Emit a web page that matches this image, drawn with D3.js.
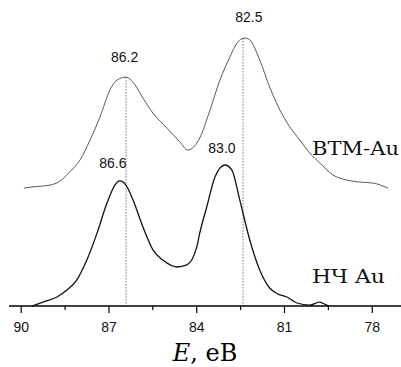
<!DOCTYPE html>
<html><head><meta charset="utf-8">
<script src="https://cdn.jsdelivr.net/npm/d3@7"></script>
<style>body{margin:0;background:#fff}svg{display:block}</style>
</head><body>
<svg id="c" width="401" height="367"></svg>
<script>
const energyBTM = [89.89,89.58,89.00,88.66,88.32,87.97,87.63,87.29,86.95,86.71,86.40,86.16,85.82,85.48,85.00,84.56,84.29,83.98,83.88,83.53,83.19,82.85,82.58,82.34,82.17,81.83,81.49,81.14,80.80,80.46,80.12,79.78,79.33,78.86,78.41,77.97,77.45];
const intensityBTM = [39.3,39.7,40.3,41.6,44.7,48.7,55.3,63.0,72.0,75.3,76.3,74.6,69.3,64.3,59.3,54.7,52.0,54.3,56.0,65.3,75.3,83.0,88.0,89.3,88.7,82.0,73.0,65.3,59.7,55.3,51.0,47.7,43.7,42.0,41.3,41.0,39.3];
const energyNP = [89.61,89.24,88.76,88.42,88.08,87.74,87.39,87.05,86.78,86.61,86.40,86.16,85.82,85.48,85.14,84.66,84.32,83.98,83.88,83.64,83.36,83.02,82.78,82.51,82.17,81.83,81.49,81.21,80.90,80.56,80.12,79.78,79.54,79.44];
const intensityNP = [0,1.3,3.0,5.3,8.7,15.3,24.3,34.3,40.3,41.7,40.3,35.3,26.3,18.7,15.3,13.0,13.7,19.7,24.3,33.0,43.0,47.0,45.3,35.3,22.0,12.0,6.0,4.0,3.0,1.0,0.3,1.3,0.3,0];
const majorTicks = [90,87,84,81,78];
const minorTicks = [88.5,85.5,82.5,79.5];
const peakLines = [86.4, 82.4];
const peakLabels = [
  {text:"86.2", e:86.45, i:81.3},
  {text:"82.5", e:82.2, i:94.7},
  {text:"86.6", e:86.85, i:46.0},
  {text:"83.0", e:83.12, i:51.0}
];
const seriesLabels = ["BTM-Au","НЧ Au"];

const svg = d3.select("#c");
const x = d3.scaleLinear().domain([90.4, 77.0]).range([9, 401]);
const y = d3.scaleLinear().domain([0, 100]).range([306, 6]);

// dotted peak lines
const tops = [76.3, 89.3];
peakLines.forEach((e,k)=>{
  svg.append("line").attr("x1",x(e)).attr("x2",x(e))
    .attr("y1",y(tops[k])).attr("y2",y(0))
    .attr("stroke","#777").attr("stroke-width",1).attr("stroke-dasharray","1.5,1.5");
});

const line = d3.line().x(d=>x(d[0])).y(d=>y(d[1])).curve(d3.curveMonotoneX);
svg.append("path").datum(energyBTM.map((e,k)=>[e,intensityBTM[k]]))
  .attr("d",line).attr("fill","none").attr("stroke","#444").attr("stroke-width",0.9);
svg.append("path").datum(energyNP.map((e,k)=>[e,intensityNP[k]]))
  .attr("d",line).attr("fill","none").attr("stroke","#111").attr("stroke-width",1.3);

// axis
const ax = svg.append("g").attr("transform",`translate(0,${y(0)})`);
ax.append("line").attr("x1",9).attr("x2",401).attr("stroke","#000").attr("stroke-width",1.5);
ax.call(g=>{
  const a = d3.axisBottom(x).tickValues(majorTicks).tickSize(7).tickFormat(d3.format("d"));
  g.append("g").call(a);
  g.append("g").call(d3.axisBottom(x).tickValues(minorTicks).tickSize(4).tickFormat(""));
});
ax.selectAll(".domain").remove();
ax.selectAll(".tick line").attr("stroke","#000").attr("stroke-width",1.2);
ax.selectAll(".tick text").attr("font-family","Liberation Sans, Arial, sans-serif")
  .attr("font-size",14).attr("fill","#111").attr("y",16).attr("dy","0.71em");

// axis title
const t = svg.append("text").attr("x",205).attr("y",361).attr("text-anchor","middle")
  .attr("font-family","DejaVu Serif, serif").attr("font-size",24).attr("fill","#000");
t.append("tspan").attr("font-style","italic").text("E");
t.append("tspan").text(", eB");

// peak labels
svg.selectAll("text.pk").data(peakLabels).join("text").attr("class","pk")
  .attr("x",d=>x(d.e)).attr("y",d=>y(d.i)).attr("text-anchor","middle")
  .attr("font-family","Liberation Sans, Arial, sans-serif").attr("font-size",14).attr("fill","#111")
  .text(d=>d.text);

// series labels
svg.append("text").attr("x",312).attr("y",155).attr("font-family","DejaVu Serif, serif")
  .attr("font-size",18).attr("fill","#111").attr("textLength",87).attr("lengthAdjust","spacingAndGlyphs")
  .text(seriesLabels[0]);
svg.append("text").attr("x",312).attr("y",283).attr("font-family","DejaVu Serif, serif")
  .attr("font-size",18).attr("fill","#111").attr("textLength",73).attr("lengthAdjust","spacingAndGlyphs")
  .text(seriesLabels[1]);
</script>
</body></html>
